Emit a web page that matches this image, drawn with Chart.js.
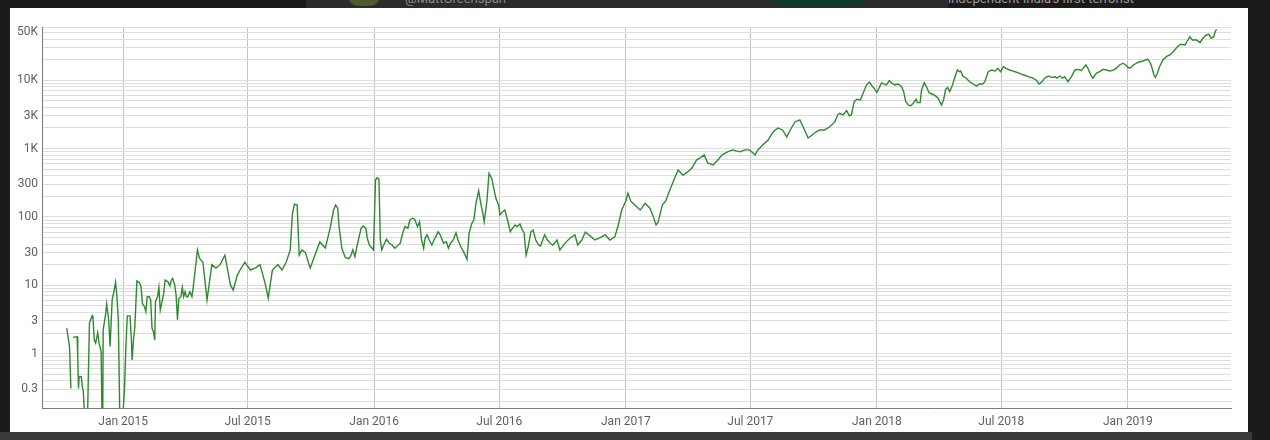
<!DOCTYPE html>
<html>
<head>
<meta charset="utf-8">
<script src="https://cdn.jsdelivr.net/npm/chart.js@4.4.1/dist/chart.umd.min.js"></script>
<style>
    html, body { margin: 0; padding: 0; }
    body { width: 1270px; height: 440px; background: #1b1b1b; position: relative; overflow: hidden; font-family: Roboto, Arial, sans-serif; }
    #topbar { position: absolute; left: 306px; top: 0; width: 642px; height: 8px; background: #2b2b2b; overflow: hidden; }
    #topbar .handle { position: absolute; left: 99px; top: -9px; font-size: 13px; color: #8a8a8a; }
    #topbar .avatar { position: absolute; left: 42px; top: -14px; width: 32px; height: 20px; border-radius: 16px; background: #4c5a2c; }
    #topbar .pill { position: absolute; left: 467px; top: -12px; width: 94px; height: 17px; border-radius: 9px; background: #0e3b2a; }
    #righttext { position: absolute; left: 948px; top: -9px; font-size: 13px; color: #9a9a9a; }
    #bottombar { position: absolute; left: 0; top: 432px; width: 1252px; height: 8px; background: #3a3a3a; }
    #panel { position: absolute; left: 10px; top: 8px; width: 1238px; height: 424px; background: #fff; }
</style>
</head>
<body>
<div id="topbar"><div class="avatar"></div><div class="handle">@MattGreenspan</div><div class="pill"></div></div>
<div id="righttext">independent India's first terrorist</div>
<div id="bottombar"></div>
<div id="panel"><canvas id="chart" width="1238" height="424"></canvas></div>
<script>
// days counted from 1 Jan 2015, null = gap in the data
const days = [
    -82, -78, -76, -75, -73, -67, -66, -65, -64, -61, -59, -58, -53, -49, -45, -44, -42, -40, -37, -35, -32, -30,
    -29, -25, -24, -21, -19, -16, -13, -11, -9, -7, -4, 2, 4, 6, 10, 12, 13, 15, 17, 20, 24, 26, 28, 31, 33, 35,
    38, 40, 42, 44, 46, 47, 50, 52, 54, 57, 59, 61, 65, 68, 70, 72, 75, 77, 79, 81, 84, 86, 88, 90, 92, 94, 97,
    100, 102, 105, 108, 111, 116, 122, 129, 135, 141, 148, 156, 160, 166, 170, 177, 185, 192, 199, 206, 211, 217,
    225, 231, 237, 243, 246, 249, 253, 256, 260, 265, 272, 279, 286, 294, 301, 306, 309, 312, 314, 318, 323, 328,
    331, 334, 337, 342, 346, 349, 353, 355, 358, 362, 364, 365, 367, 369, 372, 374, 376, 379, 383, 387, 391, 395,
    403, 407, 410, 414, 417, 421, 424, 428, 431, 434, 437, 439, 442, 445, 449, 452, 456, 458, 461, 466, 470, 473,
    476, 480, 484, 487, 491, 495, 500, 503, 507, 510, 513, 517, 520, 523, 525, 529, 532, 536, 539, 542, 546, 548,
    552, 555, 559, 563, 566, 570, 573, 577, 580, 583, 586, 589, 593, 596, 600, 604, 607, 611, 613, 617, 621, 625,
    631, 635, 643, 650, 657, 661, 667, 672, 679, 686, 693, 701, 708, 715, 720, 725, 731, 734, 738, 744, 752, 759,
    766, 770, 775, 778, 784, 789, 795, 802, 807, 814, 821, 827, 834, 839, 845, 850, 858, 865, 871, 879, 886, 897,
    904, 911, 919, 923, 930, 938, 945, 952, 959, 965, 970, 977, 984, 991, 996, 1002, 1007, 1013, 1020, 1027, 1035,
    1039, 1042, 1047, 1052, 1056, 1059, 1063, 1067, 1072, 1076, 1081, 1085, 1088, 1092, 1096, 1099, 1103, 1106,
    1110, 1114, 1117, 1122, 1127, 1132, 1135, 1138, 1142, 1145, 1149, 1153, 1155, 1159, 1161, 1165, 1168, 1172,
    1176, 1180, 1185, 1190, 1193, 1196, 1199, 1202, 1206, 1209, 1213, 1216, 1218, 1221, 1226, 1231, 1236, 1241,
    1245, 1250, 1253, 1258, 1263, 1268, 1272, 1276, 1280, 1284, 1289, 1293, 1297, 1301, 1306, 1311, 1316, 1320,
    1323, 1328, 1332, 1335, 1340, 1345, 1350, 1355, 1358, 1362, 1366, 1369, 1374, 1379, 1384, 1389, 1393, 1400,
    1403, 1407, 1410, 1415, 1420, 1425, 1430, 1435, 1440, 1444, 1449, 1454, 1458, 1462, 1465, 1469, 1476, 1483,
    1490, 1494, 1497, 1499, 1501, 1504, 1507, 1512, 1517, 1522, 1527, 1533, 1538, 1544, 1549, 1551, 1555, 1561,
    1566, 1570, 1575, 1579, 1582, 1586, 1588, 1590
];
const prices = [
    2.35, 1.26, 0.31, null, 1.73, 1.77, 0.9, 0.31, 0.46, 0.46, 0.31, 0.29, 0.03, 2.81, 3.6, 3.48, 1.58, 1.42, 2.02, 1.42, 1.07, 0.03,
    2.22, 4.11, 5.33, 3.1, 1.27, 6.1, 8.5, 11, 6.8, 3.1, 0.03, 0.31, 1.27, 3.56, 3.56, 1.58, 0.81, 1.58, 2.48, 11.6, 10.8, 9.55, 5.45, 4.86, 4.1, 6.8,
    6.8, 6.1, 2.35, 2.09, 1.58, 5.75, 6.8, 9.3, 4.35, 6.1, 7.6, 11.9, 11.3, 9.8, 11.9, 12.6, 10.1, 7.2, 3.1, 6.45, 6.8, 9.3, 6.8, 8.05, 6.8, 6.8, 8.05,
    6.8, 9.55, 17.7, 32.9, 24.9, 21.7, 6.1, 20, 17.8, 20, 27.6, 10.1, 8.5, 14.1, 16.7, 21.7, 16.7, 17.8, 20, 11.1, 6.5, 16.7,
    20, 16.7, 21.7, 32.9, 107, 154, 149, 27.6, 32.9, 30, 17.8, 27.6, 43, 35, 68.5, 126, 149, 134, 72, 34.8, 25.5, 24.5,
    26.8, 32.9, 26.2, 45.9, 68, 73.5, 68, 48.6, 38.8, 34.8, 32.9, 72, 346, 373, 356, 45.9, 32.9, 38.8, 47.2, 41.2, 38.8, 34.8,
    41.2, 60.6, 72, 68, 90, 95.5, 92.5, 72, 85, 45.9, 34.8, 48.6, 54.5, 45.9, 38.8, 45.9, 54.5, 60.6, 54.5, 41.2, 43.3, 34.8,
    41.2, 45.9, 58.7, 45.9, 36.6, 31, 24, 57.5, 80.7, 90, 158, 242, 158, 113, 85, 171, 434, 366, 262, 187, 149, 107,
    119, 126, 90, 60.6, 68, 76, 72, 78.6, 65.8, 58.7, 27.6, 36.6, 60.6, 64.4, 45.9, 38.8, 37.5, 48.6, 54.5, 45.9, 41.2, 38.8,
    45.9, 32.9, 41.7, 49.2, 54.5, 38.8, 45.9, 60, 52.8, 45.9, 49.2, 54.5, 45.9, 51, 76, 126, 171, 223, 171, 149, 126, 158,
    134, 107, 76, 84, 149, 171, 248, 370, 486, 410, 455, 518, 684, 730, 807, 615, 577, 684, 807, 895, 955, 895,
    955, 955, 807, 955, 1126, 1330, 1745, 2000, 1870, 1476, 1870, 2450, 2620, 1870, 1427, 1580, 1745, 1870, 1870, 2065, 2450,
    3100, 3280, 3100, 3600, 3000, 3100, 4860, 5260, 5130, 6440, 8500, 9400, 8500, 7600, 6650, 7600, 9200, 8800,
    8500, 9850, 9200, 8500, 8800, 8050, 6800, 4860, 4330, 4200, 4600, 5260, 4700, 4700, 7200, 9200, 8050, 6550,
    6280, 6050, 5450, 4330, 5130, 7350, 7850, 6800, 8500, 10700, 14100, 13300, 13600, 11500, 10700, 9500, 8800, 8200,
    8800, 8800, 9500, 13300, 14100, 13600, 14900, 13300, 15750, 14900, 14100, 13700, 13300, 12900, 12300, 11800, 11250, 11000,
    10700, 10000, 8800, 9200, 10700, 11500, 11000, 11250, 10700, 11500, 10700, 11250, 9500, 11250, 14100, 14400, 13800, 16700,
    14900, 11900, 10700, 12600, 13300, 14400, 14100, 13600, 14100, 14900, 16700, 17700, 16700, 15200, 15200, 16700, 18300, 19100,
    20400, 17700, 14100, 11900, 11000, 12600, 15750, 19800, 22100, 23400, 26100, 30900, 33600, 32800, 39700, 43300, 38800, 38800,
    35400, 41000, 45900, 47000, 41000, 43300, 51200, 55500
];

const xTickDays = [0, 181, 365, 547, 731, 912, 1096, 1277, 1461];
const xTickLabels = ['Jan 2015', 'Jul 2015', 'Jan 2016', 'Jul 2016', 'Jan 2017', 'Jul 2017', 'Jan 2018', 'Jul 2018', 'Jan 2019'];
const yTickValues = [0.3, 1, 3, 10, 30, 100, 300, 1000, 3000, 10000, 50000];
const yTickLabels = ['0.3', '1', '3', '10', '30', '100', '300', '1K', '3K', '10K', '50K'];

const points = days.map((d, i) => ({ x: d, y: prices[i] }));

// minor log gridlines: 1..9 x 10^k
const yGrid = [];
for (let k = -1; k <= 4; k++) {
    for (let m = 1; m <= 9; m++) {
        const v = +(m * Math.pow(10, k)).toPrecision(3);
        if (v >= 0.16 && v <= 60000) yGrid.push(v);
    }
}

const ctx = document.getElementById('chart').getContext('2d');
const chart = new Chart(ctx, {
    type: 'line',
    data: {
        datasets: [{
            label: 'price',
            data: points,
            borderColor: '#2f8a2f',
            borderWidth: 1.4,
            pointRadius: 0,
            tension: 0,
            spanGaps: false
        }]
    },
    options: {
        responsive: false,
        animation: false,
        layout: {
            padding: { top: 19, right: 17, left: 0, bottom: 0 }
        },
        plugins: {
            legend: { display: false },
            tooltip: { enabled: false }
        },
        scales: {
            x: {
                type: 'linear',
                min: -118,
                max: 1611,
                afterBuildTicks: function(scale) {
                    scale.ticks = xTickDays.map(v => ({ value: v }));
                },
                afterFit: function(scale) {
                    scale.height = 24;
                },
                grid: {
                    color: '#c4c4c4',
                    drawTicks: false
                },
                border: { display: true, color: '#7a7a7a', width: 1 },
                ticks: {
                    autoSkip: false,
                    maxRotation: 0,
                    padding: 7,
                    color: '#5f5f5f',
                    font: { family: 'Roboto', size: 12 },
                    callback: function(value) {
                        const i = xTickDays.indexOf(value);
                        return i >= 0 ? xTickLabels[i] : '';
                    }
                }
            },
            y: {
                type: 'logarithmic',
                min: 0.16,
                max: 60000,
                afterBuildTicks: function(scale) {
                    scale.ticks = yGrid.map(v => ({ value: v }));
                },
                afterFit: function(scale) {
                    scale.width = 32;
                },
                grid: {
                    color: '#dedede',
                    drawTicks: false
                },
                border: { display: true, color: '#7a7a7a', width: 1 },
                ticks: {
                    autoSkip: false,
                    padding: 4,
                    color: '#5f5f5f',
                    font: { family: 'Roboto', size: 12 },
                    callback: function(value) {
                        const i = yTickValues.findIndex(t => Math.abs(t - value) < t * 1e-6);
                        return i >= 0 ? yTickLabels[i] : '';
                    }
                }
            }
        }
    }
});
</script>
</body>
</html>
